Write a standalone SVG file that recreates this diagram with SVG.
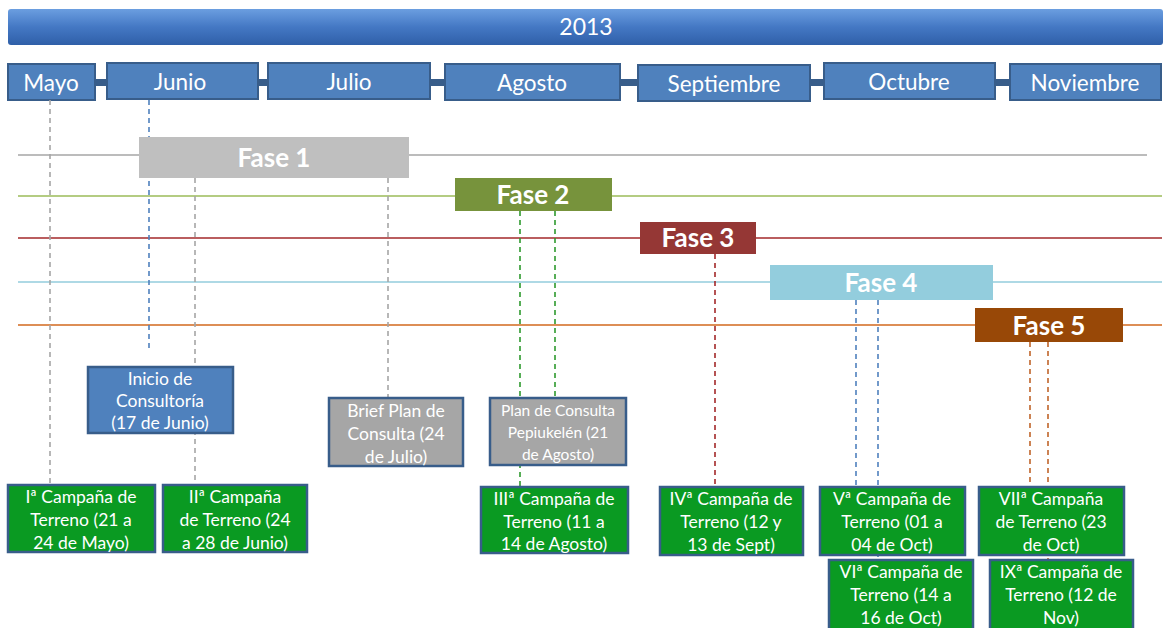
<svg xmlns="http://www.w3.org/2000/svg" width="1171" height="628" viewBox="0 0 1171 628">
<defs>
<linearGradient id="topg" x1="0" y1="0" x2="0" y2="1">
<stop offset="0" stop-color="#6b9ee0"/>
<stop offset="0.5" stop-color="#4478c4"/>
<stop offset="1" stop-color="#2f5fa8"/>
</linearGradient>
<style>
text{font-family:Lato,"Liberation Sans",sans-serif;fill:#fff;text-anchor:middle}
.mon rect{fill:#4f81bd;stroke:#385d8a;stroke-width:2}
.mon text{font-size:22.5px}
.fase text{font-size:26px;font-weight:bold}
.bx rect{stroke:#385d8a;stroke-width:2.5}
.bx text{font-size:17.5px}
.g rect{fill:#0a9a22}
.gy rect{fill:#a6a6a6}
.bl rect{fill:#4f81bd}
.dash line{stroke-width:1.6;stroke-dasharray:5,4;fill:none}
</style>
</defs>
<rect width="1171" height="628" fill="#fff"/>

<g id="year">
<rect x="8" y="9" width="1155" height="36" rx="3" fill="url(#topg)"/>
<text x="586" y="35" style="font-size:23px">2013</text>
</g>

<g id="month-links" fill="#385d8a">
<rect x="95" y="79" width="12" height="7"/>
<rect x="258" y="79" width="10" height="7"/>
<rect x="430" y="79" width="15" height="7"/>
<rect x="620" y="79" width="18" height="7"/>
<rect x="810" y="79" width="14" height="7"/>
<rect x="995" y="79" width="15" height="7"/>
</g>

<g id="months" class="mon">
<g id="m-mayo"><rect x="8" y="64" width="87" height="36"/><text x="51" y="91">Mayo</text></g>
<g id="m-junio"><rect x="107" y="63" width="151" height="36"/><text x="180" y="90">Junio</text></g>
<g id="m-julio"><rect x="268" y="63" width="162" height="36"/><text x="349" y="90">Julio</text></g>
<g id="m-agosto"><rect x="445" y="64" width="175" height="36"/><text x="532" y="91">Agosto</text></g>
<g id="m-sept"><rect x="638" y="65" width="172" height="36"/><text x="724" y="92">Septiembre</text></g>
<g id="m-oct"><rect x="824" y="63" width="171" height="36"/><text x="909" y="90">Octubre</text></g>
<g id="m-nov"><rect x="1010" y="64" width="151" height="36"/><text x="1085" y="91">Noviembre</text></g>
</g>

<g id="phase-lines" stroke-width="1.6">
<line x1="18" y1="155" x2="1147" y2="155" stroke="#a6a6a6"/>
<line x1="18" y1="196" x2="1162" y2="196" stroke="#9bbb59"/>
<line x1="18" y1="238" x2="1162" y2="238" stroke="#a3282a"/>
<line x1="18" y1="282" x2="1162" y2="282" stroke="#93cddd"/>
<line x1="18" y1="325" x2="1162" y2="325" stroke="#d2691e"/>
</g>

<g id="connectors" class="dash">
<line x1="50" y1="100" x2="50" y2="485" stroke="#a6a6a6"/>
<line x1="149" y1="100" x2="149" y2="352" stroke="#4f81bd"/>
<line x1="195" y1="178" x2="195" y2="485" stroke="#a6a6a6"/>
<line x1="388" y1="178" x2="388" y2="398" stroke="#a6a6a6"/>
<line x1="520" y1="211" x2="520" y2="487" stroke="#2e9a2e"/>
<line x1="555" y1="211" x2="555" y2="398" stroke="#2e9a2e"/>
<line x1="715" y1="254" x2="715" y2="487" stroke="#a3282a"/>
<line x1="856" y1="300" x2="856" y2="487" stroke="#4f81bd"/>
<line x1="878" y1="300" x2="878" y2="560" stroke="#4f81bd"/>
<line x1="1030" y1="342" x2="1030" y2="487" stroke="#c0642a"/>
<line x1="1048" y1="342" x2="1048" y2="560" stroke="#c0642a"/>
</g>

<g id="phases" class="fase">
<g id="fase1"><rect x="139" y="137" width="270" height="41" fill="#bfbfbf"/><text x="274" y="167">Fase 1</text></g>
<g id="fase2"><rect x="455" y="178" width="157" height="33" fill="#77933c"/><text x="533" y="204">Fase 2</text></g>
<g id="fase3"><rect x="640" y="222" width="116" height="32" fill="#953735"/><text x="698" y="247">Fase 3</text></g>
<g id="fase4"><rect x="770" y="265" width="223" height="35" fill="#93cddd"/><text x="881" y="292">Fase 4</text></g>
<g id="fase5"><rect x="975" y="308" width="148" height="34" fill="#984807"/><text x="1049" y="335">Fase 5</text></g>
</g>

<g id="inicio" class="bx bl"><rect x="88" y="367" width="145" height="66"/>
<text x="160" y="385">Inicio de</text><text x="160" y="407">Consultoría</text><text x="160" y="429">(17 de Junio)</text></g>

<g id="brief" class="bx gy"><rect x="329" y="398" width="134" height="68"/>
<text x="396" y="417">Brief Plan de</text><text x="396" y="440">Consulta (24</text><text x="396" y="463">de Julio)</text></g>

<g id="plan" class="bx gy"><rect x="490" y="398" width="136" height="67"/>
<text x="558" y="416" style="font-size:15.5px">Plan de Consulta</text><text x="558" y="438" style="font-size:15.5px">Pepiukelén (21</text><text x="558" y="460" style="font-size:15.5px">de Agosto)</text></g>

<g id="c1" class="bx g"><rect x="8" y="485" width="147" height="67"/>
<text x="81" y="503">Iª Campaña de</text><text x="81" y="526">Terreno (21 a</text><text x="81" y="549">24 de Mayo)</text></g>

<g id="c2" class="bx g"><rect x="163" y="485" width="144" height="67"/>
<text x="235" y="503">IIª Campaña</text><text x="235" y="526">de Terreno (24</text><text x="235" y="549">a 28 de Junio)</text></g>

<g id="c3" class="bx g"><rect x="481" y="487" width="147" height="66"/>
<text x="554" y="505">IIIª Campaña de</text><text x="554" y="528">Terreno (11 a</text><text x="554" y="550">14 de Agosto)</text></g>

<g id="c4" class="bx g"><rect x="660" y="487" width="143" height="68"/>
<text x="731" y="505">IVª Campaña de</text><text x="731" y="528">Terreno (12 y</text><text x="731" y="551">13 de Sept)</text></g>

<g id="c5" class="bx g"><rect x="820" y="487" width="145" height="68"/>
<text x="892" y="505">Vª Campaña de</text><text x="892" y="528">Terreno (01 a</text><text x="892" y="551">04 de Oct)</text></g>

<g id="c7" class="bx g"><rect x="979" y="487" width="145" height="68"/>
<text x="1051" y="505">VIIª Campaña</text><text x="1051" y="528">de Terreno (23</text><text x="1051" y="551">de Oct)</text></g>

<g id="c6" class="bx g"><rect x="829" y="560" width="144" height="70"/>
<text x="901" y="578">VIª Campaña de</text><text x="901" y="601">Terreno (14 a</text><text x="901" y="624">16 de Oct)</text></g>

<g id="c9" class="bx g"><rect x="990" y="560" width="143" height="70"/>
<text x="1061" y="578">IXª Campaña de</text><text x="1061" y="601">Terreno (12 de</text><text x="1061" y="624">Nov)</text></g>
</svg>
